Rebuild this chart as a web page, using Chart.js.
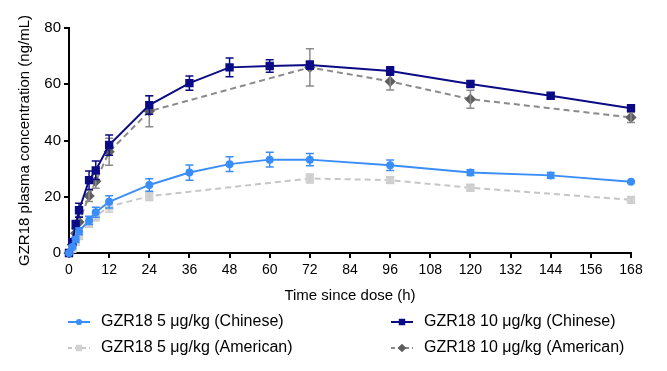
<!DOCTYPE html>
<html>
<head>
<meta charset="utf-8">
<script src="https://cdn.jsdelivr.net/npm/chart.js@4.4.1/dist/chart.umd.min.js"></script>
<style>
	html, body { margin: 0; padding: 0; background: #fff; }
	#wrap { width: 667px; height: 371px; position: relative; }
</style>
</head>
<body>
<div id="wrap"><canvas id="pk-chart" width="667" height="371"></canvas></div>
<script>
// time points (h)
var timeChinese = [0, 1, 2, 3, 6, 8, 12, 24, 36, 48, 60, 72, 96, 120, 144, 168];
var timeAmerican = [0, 1, 2, 3, 6, 8, 12, 24, 72, 96, 120, 168];

// mean concentrations (ng/mL)
var ch5 = [0, 2.1, 4.8, 7.7, 11.6, 14.5, 18.2, 24.2, 28.6, 31.6, 33.2, 33.2, 31.2, 28.6, 27.6, 25.3];
var ch10 = [0, 3.9, 10.1, 15.2, 25.9, 29.4, 38.4, 52.6, 60.4, 66.0, 66.5, 66.8, 64.7, 60.1, 55.9, 51.5];
var am5 = [0, 1.5, 4.0, 6.0, 10.5, 13.0, 16.5, 20.2, 26.5, 25.9, 23.2, 18.9];
var am10 = [0, 3.0, 7.0, 11.0, 20.3, 25.5, 36.0, 50.4, 66.0, 61.0, 54.7, 48.2];

// error (SEM)
var ch5Err = [0, 0.6, 1.0, 1.2, 1.5, 1.8, 2.2, 2.2, 2.7, 2.6, 2.6, 2.2, 1.9, 1.0, 1.0, 0.3];
var ch10Err = [0, 1.0, 1.5, 2.5, 3.3, 3.3, 3.6, 3.3, 2.5, 3.3, 2.2, 1.5, 1.5, 1.0, 1.0, 1.0];
var am5Err = [0, 0.5, 0.8, 1.0, 1.3, 1.5, 2.0, 1.5, 1.6, 1.0, 1.0, 1.0];
var am10Err = [0, 1.0, 1.5, 2.0, 2.0, 2.5, 4.8, 5.5, 6.6, 3.0, 3.2, 1.8];

var seriesLabels = ['GZR18 5 μg/kg (Chinese)', 'GZR18 10 μg/kg (Chinese)', 'GZR18 5 μg/kg (American)', 'GZR18 10 μg/kg (American)'];

var xTicks = { min: 0, max: 168, step: 12 };
var yTicks = { min: 0, max: 80, step: 20 };

var FONT = "'Liberation Sans', Arial, Helvetica, sans-serif";

function toPoints(xs, ys) {
	return xs.map(function(x, i) { return { x: x, y: ys[i] }; });
}

// error bars, drawn right after each dataset
var errorBarPlugin = {
	id: 'errorBars',
	afterDatasetDraw: function(chart, args) {
		var ds = chart.data.datasets[args.index];
		if (!ds.errors) return;
		var ctx = chart.ctx;
		var xs = chart.scales.x, ys = chart.scales.y;
		ctx.save();
		ctx.strokeStyle = ds.errorColor;
		ctx.lineWidth = 1.5;
		ds.data.forEach(function(p, i) {
			var e = ds.errors[i];
			if (!e) return;
			var px = xs.getPixelForValue(p.x);
			var top = ys.getPixelForValue(p.y + e);
			var bot = ys.getPixelForValue(p.y - e);
			ctx.beginPath();
			ctx.moveTo(px, top); ctx.lineTo(px, bot);
			ctx.moveTo(px - 4, top); ctx.lineTo(px + 4, top);
			ctx.moveTo(px - 4, bot); ctx.lineTo(px + 4, bot);
			ctx.stroke();
		});
		ctx.restore();
	}
};

// two-column legend under the x axis title
var legendPlugin = {
	id: 'gridLegend',
	afterDraw: function(chart) {
		var ctx = chart.ctx;
		var cols = [68, 391];
		var rows = [322, 348];
		ctx.save();
		chart.data.datasets.forEach(function(ds, k) {
			var x = cols[k % 2], y = rows[Math.floor(k / 2)];
			ctx.strokeStyle = ds.borderColor;
			ctx.lineWidth = 2;
			ctx.setLineDash(ds.borderDash ? [4, 3] : []);
			ctx.beginPath();
			ctx.moveTo(x, y); ctx.lineTo(x + 22, y);
			ctx.stroke();
			ctx.setLineDash([]);
			ctx.fillStyle = ds.pointBackgroundColor;
			ctx.strokeStyle = ds.pointBackgroundColor;
			Chart.helpers.drawPoint(ctx, {
				pointStyle: ds.pointStyle,
				radius: ds.pointRadius * 0.7,
				borderWidth: 1
			}, x + 11, y);
			ctx.fillStyle = '#000';
			ctx.font = '16px ' + FONT;
			ctx.textBaseline = 'middle';
			ctx.fillText(ds.label, x + 33, y);
		});
		ctx.restore();
	}
};

var config = {
	type: 'line',
	data: {
		datasets: [
			{
				label: seriesLabels[0],
				data: toPoints(timeChinese, ch5),
				errors: ch5Err,
				borderColor: '#3b8ef8',
				pointBackgroundColor: '#3b8ef8',
				pointBorderColor: '#3b8ef8',
				errorColor: '#3b8ef8',
				pointStyle: 'circle',
				pointRadius: 3,
				borderWidth: 2
			},
			{
				label: seriesLabels[1],
				data: toPoints(timeChinese, ch10),
				errors: ch10Err,
				borderColor: '#0b0b85',
				pointBackgroundColor: '#0b0b85',
				pointBorderColor: '#0b0b85',
				errorColor: '#0b0b85',
				pointStyle: 'rect',
				pointRadius: 4.5,
				borderWidth: 2
			},
			{
				label: seriesLabels[2],
				data: toPoints(timeAmerican, am5),
				errors: am5Err,
				borderColor: '#c6c6c6',
				borderDash: [6, 4],
				pointBackgroundColor: '#d2d2d2',
				pointBorderColor: '#d2d2d2',
				errorColor: '#cccccc',
				pointStyle: 'rect',
				pointRadius: 4.5,
				borderWidth: 2
			},
			{
				label: seriesLabels[3],
				data: toPoints(timeAmerican, am10),
				errors: am10Err,
				borderColor: '#8a8a8a',
				borderDash: [6, 4],
				pointBackgroundColor: '#5e5e5e',
				pointBorderColor: '#5e5e5e',
				errorColor: '#8a8a8a',
				pointStyle: 'rectRot',
				pointRadius: 4.2,
				borderWidth: 2
			}
		]
	},
	options: {
		responsive: false,
		animation: false,
		layout: {
			padding: { top: 28, right: 36, bottom: 66, left: 0 }
		},
		elements: {
			line: { tension: 0 },
			point: { hoverRadius: 4 }
		},
		datasets: { line: { clip: false } },
		scales: {
			x: {
				type: 'linear',
				min: xTicks.min,
				max: xTicks.max,
				afterFit: function(scale) { scale.height = 52; },
				border: { color: '#000', width: 2 },
				grid: { drawOnChartArea: false, drawTicks: true, tickLength: 5, color: '#000', lineWidth: 2 },
				ticks: {
					stepSize: xTicks.step,
					color: '#000',
					padding: 4,
					maxRotation: 0,
					font: { family: FONT, size: 14 }
				},
				title: {
					display: true,
					text: 'Time since dose (h)',
					color: '#000',
					padding: { top: 4, bottom: 0 },
					font: { family: FONT, size: 15 }
				}
			},
			y: {
				min: yTicks.min,
				max: yTicks.max,
				afterFit: function(scale) { scale.width = 69; },
				border: { color: '#000', width: 2 },
				grid: { drawOnChartArea: false, drawTicks: true, tickLength: 5, color: '#000', lineWidth: 2 },
				ticks: {
					stepSize: yTicks.step,
					color: '#000',
					padding: 3,
					font: { family: FONT, size: 15 }
				},
				title: {
					display: true,
					text: 'GZR18 plasma concentration (ng/mL)',
					color: '#000',
					padding: { top: 16, bottom: 0 },
					font: { family: FONT, size: 15 }
				}
			}
		},
		plugins: {
			legend: { display: false },
			tooltip: { enabled: false }
		}
	},
	plugins: [errorBarPlugin, legendPlugin]
};

var ctx = document.getElementById('pk-chart').getContext('2d');
window.pkChart = new Chart(ctx, config);
</script>
</body>
</html>
